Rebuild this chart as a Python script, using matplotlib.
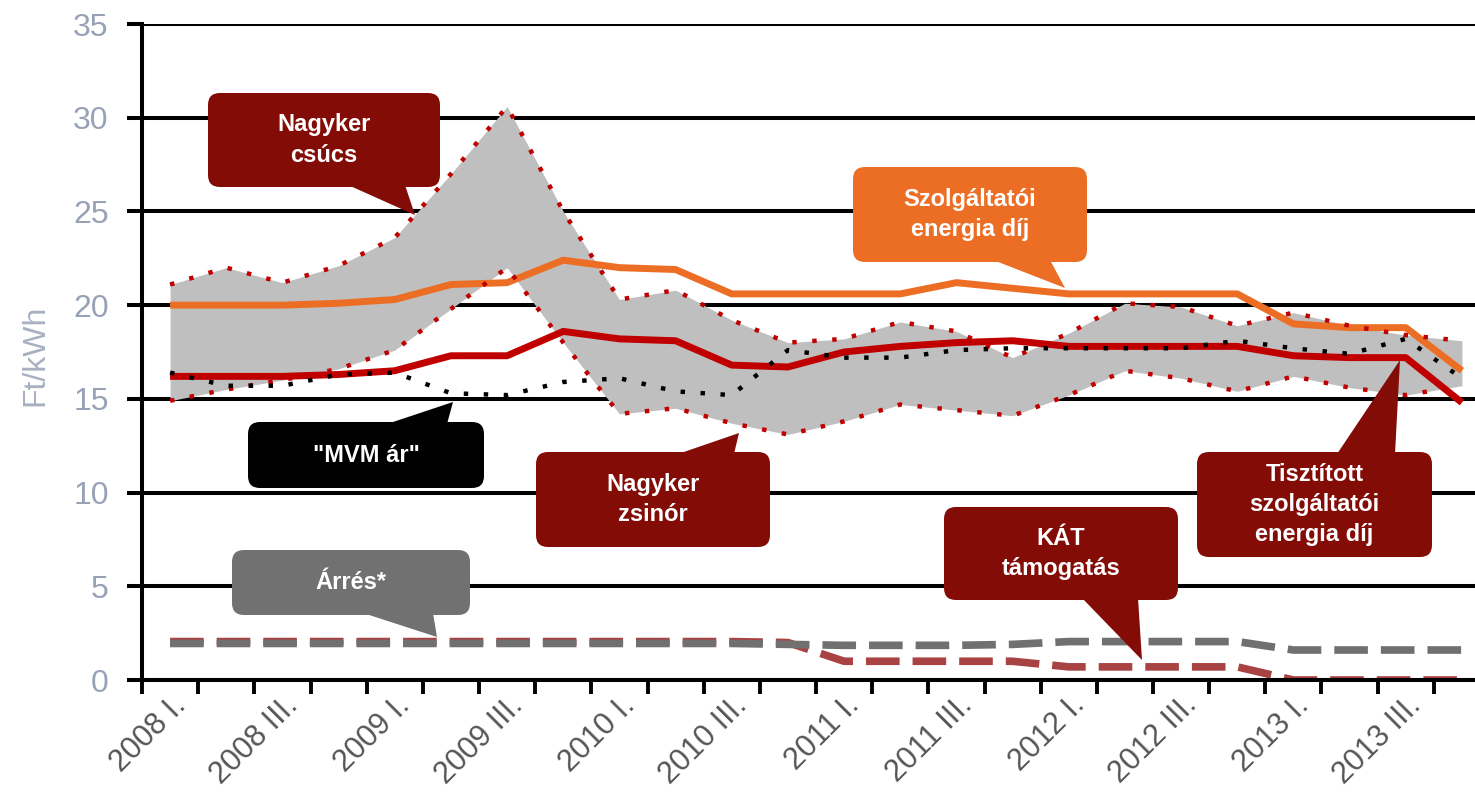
import matplotlib
matplotlib.use('Agg')
import matplotlib.pyplot as plt
from matplotlib.patches import FancyBboxPatch, Polygon
from matplotlib.transforms import IdentityTransform, ScaledTranslation

plt.rcParams['font.family'] = ['Liberation Sans', 'DejaVu Sans']

SZELES, MAGAS = 1475, 811

negyedevek = ['2008 I.', '2008 II.', '2008 III.', '2008 IV.',
              '2009 I.', '2009 II.', '2009 III.', '2009 IV.',
              '2010 I.', '2010 II.', '2010 III.', '2010 IV.',
              '2011 I.', '2011 II.', '2011 III.', '2011 IV.',
              '2012 I.', '2012 II.', '2012 III.', '2012 IV.',
              '2013 I.', '2013 II.', '2013 III.', '2013 IV.']

# Ft/kWh
csucs = [21.1, 22.0, 21.2, 22.1, 23.6, 27.0, 30.6, 25.0, 20.3, 20.8, 19.2, 18.0,
         18.2, 19.1, 18.6, 17.2, 18.5, 20.1, 19.9, 18.9, 19.6, 18.9, 18.4, 18.1]
zsinor = [14.9, 15.5, 16.0, 16.6, 17.6, 19.8, 22.0, 18.0, 14.2, 14.5, 13.7, 13.1,
          13.8, 14.7, 14.4, 14.1, 15.2, 16.5, 16.1, 15.4, 16.2, 15.6, 15.2, 15.7]
szolgaltatoi = [20.0, 20.0, 20.0, 20.1, 20.3, 21.1, 21.2, 22.4, 22.0, 21.9, 20.6, 20.6,
                20.6, 20.6, 21.2, 20.9, 20.6, 20.6, 20.6, 20.6, 19.0, 18.8, 18.8, 16.5]
tisztitott = [16.2, 16.2, 16.2, 16.3, 16.5, 17.3, 17.3, 18.6, 18.2, 18.1, 16.8, 16.7,
              17.5, 17.8, 18.0, 18.1, 17.8, 17.8, 17.8, 17.8, 17.3, 17.2, 17.2, 14.8]
mvm_ar = [16.4, 15.7, 15.7, 16.3, 16.4, 15.3, 15.2, 15.9, 16.1, 15.4, 15.2, 17.6,
          17.2, 17.2, 17.6, 17.7, 17.7, 17.7, 17.7, 18.1, 17.7, 17.4, 18.2, 16.1]
arres = [1.95, 1.95, 1.95, 1.95, 1.95, 1.95, 1.95, 1.95, 1.95, 1.95, 1.95, 1.9,
         1.85, 1.85, 1.85, 1.9, 2.05, 2.05, 2.05, 2.05, 1.6, 1.6, 1.6, 1.6]
kat = [2.05, 2.05, 2.05, 2.05, 2.05, 2.05, 2.05, 2.05, 2.05, 2.05, 2.05, 2.0,
       1.0, 1.0, 1.0, 1.0, 0.7, 0.7, 0.7, 0.7, 0.0, 0.0, 0.0, 0.0]

y_tickek = [0, 5, 10, 15, 20, 25, 30, 35]

fig = plt.figure(figsize=(SZELES / 100, MAGAS / 100), dpi=100)
ax = fig.add_axes([142 / SZELES, 1 - 680 / MAGAS, (1490 - 142) / SZELES, (680 - 24) / MAGAS])

x = list(range(len(negyedevek)))
pont = (0, (1.0, 3.5))

ax.fill_between(x, zsinor, csucs, color='#bfbfbf', lw=0, zorder=1)
ax.plot(x, kat, color='#a94242', lw=5.5, ls=(0, (4.4, 1.7)), zorder=2)
ax.plot(x, arres, color='#707070', lw=5.5, ls=(0, (4.4, 1.7)), zorder=3)
ax.plot(x, szolgaltatoi, color='#ec6e24', lw=5, zorder=4, solid_capstyle='butt')
ax.plot(x, tisztitott, color='#c00000', lw=5, zorder=5, solid_capstyle='butt')
ax.plot(x, csucs, color='#c00000', lw=3.2, ls=pont, zorder=6)
ax.plot(x, zsinor, color='#c00000', lw=3.2, ls=pont, zorder=6)
ax.plot(x, mvm_ar, color='black', lw=3.2, ls=pont, zorder=7)

ax.set_xlim(-0.5, len(negyedevek) - 0.5)
ax.set_ylim(0, 35)
ax.set_yticks(y_tickek)
ax.set_yticklabels([str(v) for v in y_tickek])
ax.yaxis.grid(True, color='black', lw=2.9)
ax.set_axisbelow(True)

ax.set_xticks([i - 0.5 for i in range(len(negyedevek) + 1)])
ax.set_xticklabels([])
ax.set_xticks(x[::2], minor=True)
ax.set_xticklabels(negyedevek[::2], minor=True, rotation=45, ha='right',
                   va='center', rotation_mode='anchor', fontsize=22, color='#555555')
ax.tick_params(axis='x', which='major', length=10, width=2.8, color='black')
ax.tick_params(axis='x', which='minor', length=0, pad=15)
ax.tick_params(axis='y', length=11, width=2.9, pad=13, labelsize=23, labelcolor='#98a2b6')
eltolas = ScaledTranslation(8 / 72, 0, fig.dpi_scale_trans)
for felirat in ax.get_xticklabels(minor=True):
    felirat.set_transform(felirat.get_transform() + eltolas)

for s in ['top', 'right']:
    ax.spines[s].set_visible(False)
ax.spines['left'].set_linewidth(2.9)
ax.spines['bottom'].set_linewidth(2.9)

fig.text(35 / SZELES, 1 - 355 / MAGAS, 'Ft/kWh', rotation=90, ha='center', va='center',
         fontsize=23, color='#a8b0c2')


def buborek(doboz, alap, hegy, szoveg, szin):
    x0, y0, x1, y1 = doboz
    ut = IdentityTransform()
    fig.add_artist(FancyBboxPatch((x0, MAGAS - y1), x1 - x0, y1 - y0,
                                  boxstyle='round,pad=0,rounding_size=12',
                                  transform=ut, facecolor=szin, edgecolor='none', zorder=20))
    pontok = [(alap[0], MAGAS - alap[2]), (alap[1], MAGAS - alap[2]), (hegy[0], MAGAS - hegy[1])]
    fig.add_artist(Polygon(pontok, closed=True, transform=ut, facecolor=szin,
                           edgecolor='none', zorder=20))
    fig.text((x0 + x1) / 2 / SZELES, 1 - (y0 + y1) / 2 / MAGAS, szoveg, ha='center', va='center',
             color='white', fontsize=17, fontweight='bold', linespacing=1.4, zorder=21)


sotetpiros = '#840c07'
buborek((208, 93, 440, 187), (348, 405, 185), (415, 215), 'Nagyker\ncsúcs', sotetpiros)
buborek((853, 167, 1087, 262), (993, 1050, 260), (1065, 288), 'Szolgáltatói\nenergia díj', '#ec6e24')
buborek((248, 422, 484, 488), (387, 447, 424), (453, 402), '"MVM ár"', 'black')
buborek((232, 550, 470, 615), (363, 433, 613), (437, 637), 'Árrés*', '#717171')
buborek((536, 452, 770, 547), (678, 734, 454), (739, 433), 'Nagyker\nzsinór', sotetpiros)
buborek((944, 507, 1178, 600), (1082, 1138, 598), (1142, 660), 'KÁT\ntámogatás', sotetpiros)
buborek((1197, 452, 1432, 557), (1337, 1395, 454), (1400, 360),
        'Tisztított\nszolgáltatói\nenergia díj', sotetpiros)

fig.savefig('out.png', dpi=100)
